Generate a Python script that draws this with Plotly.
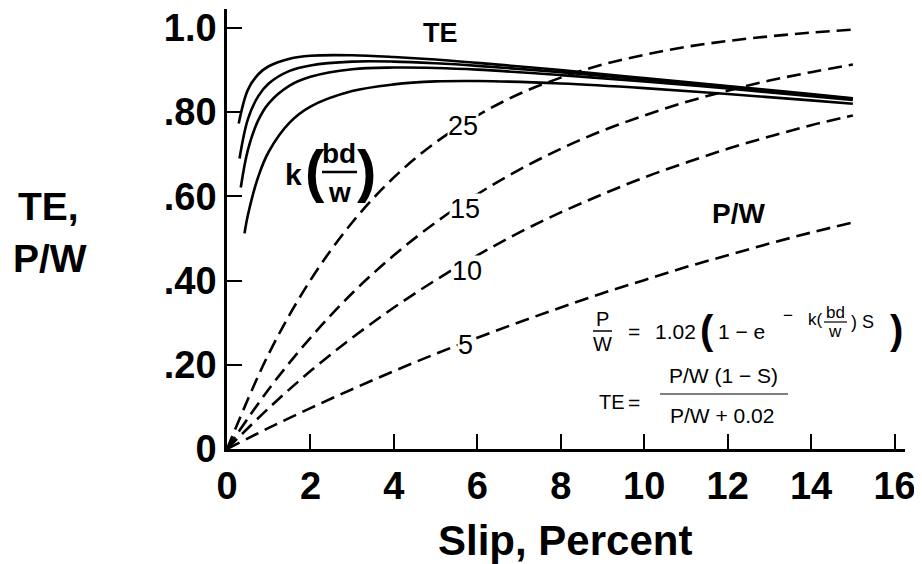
import plotly.graph_objects as go

# ---------------- data ----------------
slip_pw = [0, 1, 2, 3, 4, 5, 6, 7, 8, 9, 10, 11, 12, 13, 14, 15]
pw_k25 = [0, 0.226, 0.401, 0.538, 0.645, 0.728, 0.792, 0.843, 0.882, 0.913, 0.936, 0.955, 0.969, 0.980, 0.989, 0.996]
pw_k15 = [0, 0.142, 0.264, 0.370, 0.460, 0.538, 0.605, 0.663, 0.713, 0.756, 0.792, 0.824, 0.851, 0.875, 0.895, 0.913]
pw_k10 = [0, 0.097, 0.185, 0.264, 0.336, 0.401, 0.460, 0.514, 0.562, 0.605, 0.645, 0.680, 0.713, 0.742, 0.769, 0.792]
pw_k5 = [0, 0.050, 0.097, 0.142, 0.185, 0.226, 0.264, 0.301, 0.336, 0.370, 0.401, 0.432, 0.460, 0.488, 0.514, 0.538]

slip_te_common = [0.5, 0.75, 1, 1.5, 2, 3, 4, 5, 6, 8, 10, 12, 14, 15]
te_start = [0.28, 0.30, 0.33, 0.42]
te_k25 = [0.773, 0.853, 0.890, 0.909, 0.927, 0.934, 0.935, 0.931, 0.925, 0.917, 0.900, 0.881, 0.862, 0.843, 0.833]
te_k15 = [0.690, 0.783, 0.838, 0.868, 0.898, 0.911, 0.920, 0.920, 0.916, 0.910, 0.895, 0.878, 0.860, 0.841, 0.832]
te_k10 = [0.621, 0.710, 0.781, 0.821, 0.863, 0.884, 0.902, 0.906, 0.905, 0.901, 0.888, 0.873, 0.856, 0.838, 0.829]
te_k5 = [0.512, 0.555, 0.647, 0.706, 0.775, 0.813, 0.850, 0.866, 0.873, 0.874, 0.868, 0.857, 0.843, 0.828, 0.820]

k_labels = ["25", "15", "10", "5"]
x_ticks = [0, 2, 4, 6, 8, 10, 12, 14, 16]
y_ticks = [0, 0.2, 0.4, 0.6, 0.8, 1.0]
y_ticktext = ["0", ".20", ".40", ".60", ".80", "1.0"]

# ---------------- figure ----------------
OFF = 8                      # default page body margin
W, H = 922 - OFF, 564 - OFF
ML, MT = 227 - OFF, 9 - OFF
MR = W - (905 - OFF)
MB = H - (449 - OFF)
XR = [0, 16.25]
YR = [0, 1.045]
PW_ = W - ML - MR
PH_ = H - MT - MB


def px(p):   # page pixel x -> paper x
    return (p - OFF - ML) / PW_


def py(p):   # page pixel y -> paper y
    return (H - MB - (p - OFF)) / PH_


fig = go.Figure()
FONT = "Liberation Sans"

for ys in [pw_k25, pw_k15, pw_k10, pw_k5]:
    fig.add_trace(go.Scatter(x=slip_pw, y=ys, mode="lines", line_shape="spline",
                             line=dict(color="black", width=2.6, dash="14px,7px"),
                             showlegend=False, hoverinfo="skip"))

for xs0, ys in zip(te_start, [te_k25, te_k15, te_k10, te_k5]):
    fig.add_trace(go.Scatter(x=[xs0] + slip_te_common, y=ys, mode="lines", line_shape="spline",
                             line=dict(color="black", width=2.6),
                             showlegend=False, hoverinfo="skip"))

ann = []


def A(text, x, y, size, bold=False, xanchor="center", bg=None):
    d = dict(x=px(x), y=py(y), xref="paper", yref="paper",
             text=("<b>%s</b>" % text) if bold else text,
             showarrow=False, xanchor=xanchor, yanchor="middle",
             font=dict(family=FONT, size=size, color="black"))
    if bg:
        d["bgcolor"] = bg
        d["borderpad"] = 0
    ann.append(d)


# curve labels
label_pos = [(463, 126), (465, 209), (467, 271), (465, 345)]
for t, (lx, ly) in zip(k_labels, label_pos):
    A(t, lx, ly, 27, bg="white")
A("TE", 440, 33, 27, bold=True)
A("P/W", 738, 213, 28, bold=True)

# k(bd/w)
A("k", 293, 174, 30, bold=True)
A("(", 315, 170, 58, bold=True)
A("bd", 339, 153, 28, bold=True)
A("w", 339, 192, 28, bold=True)
A(")", 366, 170, 58, bold=True)

# axis titles
A("TE,", 48, 206, 39, bold=True)
A("P/W", 50, 258, 39, bold=True)
A("Slip, Percent", 565, 540, 42, bold=True)

# formula 1
A("P", 602, 319, 20)
A("W", 602, 344, 20)
A("=", 634, 331, 21)
A("1.02", 653, 331, 21, xanchor="left")
A("(", 707, 330, 40, bold=True)
A("1 \u2212 e", 716, 331, 21, xanchor="left")
A("\u2212", 788, 315, 17)
A("k(", 806, 319, 17, xanchor="left")
A("bd", 835, 312, 17)
A("w", 835, 331, 17)
A(") S", 849, 322, 18, xanchor="left")
A(")", 896, 330, 40, bold=True)

# formula 2
A("TE", 597, 402, 20, xanchor="left")
A("=", 634, 402, 21)
A("P/W (1 \u2212 S)", 723, 375, 21)
A("P/W + 0.02", 722, 415, 21)

LINE = dict(type="line", xref="paper", yref="paper")
shapes = [
    dict(LINE, x0=px(322), x1=px(357), y0=py(172), y1=py(172), line=dict(color="black", width=2.5)),
    dict(LINE, x0=px(593), x1=px(612), y0=py(331), y1=py(331), line=dict(color="black", width=1.5)),
    dict(LINE, x0=px(824), x1=px(847), y0=py(322), y1=py(322), line=dict(color="black", width=1.2)),
    dict(LINE, x0=px(660), x1=px(788), y0=py(394), y1=py(394), line=dict(color="black", width=1.2)),
]

fig.update_layout(
    width=W, height=H,
    margin=dict(l=ML, r=MR, t=MT, b=MB, pad=0, autoexpand=False),
    paper_bgcolor="white", plot_bgcolor="white",
    annotations=ann, shapes=shapes,
    xaxis=dict(range=XR, tickvals=x_ticks, ticks="inside", ticklen=15, tickwidth=2, tickcolor="black",
               showline=True, linecolor="black", linewidth=2.5, showgrid=False, zeroline=False,
               automargin=False, ticklabeloverflow="allow",
               tickfont=dict(family=FONT, size=38, color="black", weight="bold"),
               ticklabelstandoff=2),
    yaxis=dict(range=YR, tickvals=y_ticks, ticktext=y_ticktext, ticks="inside", ticklen=15, tickwidth=2,
               tickcolor="black", showline=True, linecolor="black", linewidth=2.5, showgrid=False,
               zeroline=False, ticklabelstandoff=0, automargin=False, ticklabeloverflow="allow",
               tickfont=dict(family=FONT, size=38, color="black", weight="bold")),
)

fig.write_html("out.html")
